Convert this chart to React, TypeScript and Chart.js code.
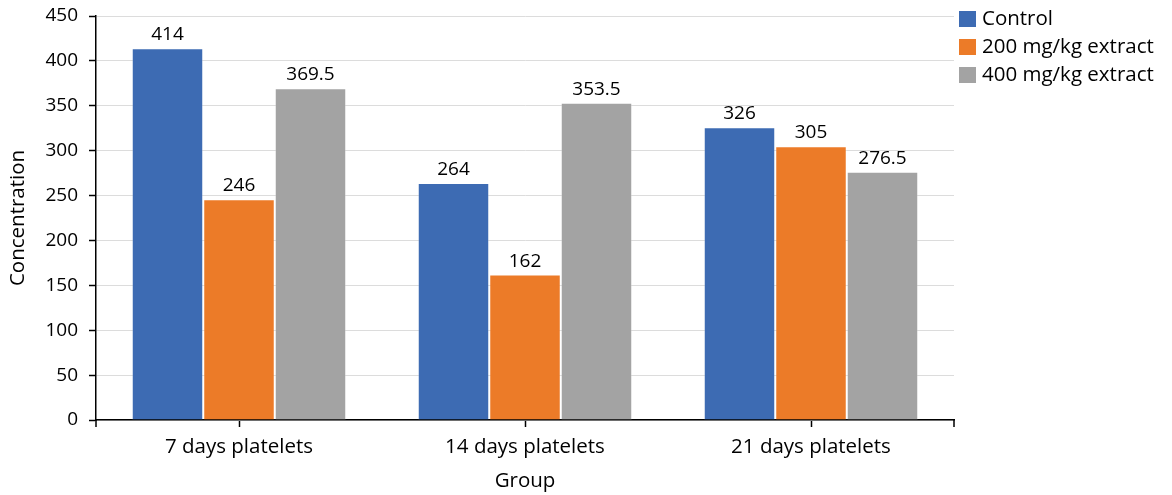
import React, { useEffect, useRef } from "react";
import { Chart, registerables } from "chart.js";

Chart.register(...registerables);

const categories = ["7 days platelets", "14 days platelets", "21 days platelets"];
const seriesNames = ["Control", "200 mg/kg extract", "400 mg/kg extract"];
const controlValues = [414, 264, 326];
const extract200Values = [246, 162, 305];
const extract400Values = [369.5, 353.5, 276.5];
const seriesColors = ["#3D6BB3", "#EC7B28", "#A3A3A3"];
const yTicks = [0, 50, 100, 150, 200, 250, 300, 350, 400, 450];

const FONT = "'Open Sans', 'Noto Sans', sans-serif";
const NUM_SIZE = 19; // numbers: tick values and bar labels
const TEXT_SIZE = 20.5; // words: categories, titles, legend

// Plot-area box on the canvas
const PLOT_LEFT = 96;
const PLOT_RIGHT = 954;
const PLOT_TOP = 16;
const PLOT_BOTTOM = 420;
const W = 1172;
const H = 495;

const extrasPlugin = {
  id: "extras",
  afterDatasetsDraw(chart: any) {
    const ctx = chart.ctx;
    const { left, right, top, bottom } = chart.chartArea;
    ctx.save();
    // value labels above bars
    ctx.font = `${NUM_SIZE}px ${FONT}`;
    ctx.fillStyle = "#000";
    ctx.textAlign = "center";
    ctx.textBaseline = "alphabetic";
    chart.data.datasets.forEach((ds: any, i: number) => {
      const meta = chart.getDatasetMeta(i);
      meta.data.forEach((bar: any, j: number) => {
        ctx.fillText(String(ds.data[j]), bar.x, bar.y - 8);
      });
    });
    // end ticks on the category axis
    ctx.strokeStyle = "#000";
    ctx.lineWidth = 1.5;
    ctx.beginPath();
    ctx.moveTo(left, bottom);
    ctx.lineTo(left, bottom + 7);
    ctx.moveTo(right, bottom);
    ctx.lineTo(right, bottom + 7);
    ctx.stroke();
    // axis titles
    ctx.font = `${TEXT_SIZE}px ${FONT}`;
    ctx.fillStyle = "#000";
    ctx.textAlign = "center";
    ctx.textBaseline = "middle";
    ctx.fillText("Group", (left + right) / 2, 481);
    ctx.save();
    ctx.translate(18, (top + bottom) / 2);
    ctx.rotate(-Math.PI / 2);
    ctx.fillText("Concentration", 0, 0);
    ctx.restore();
    // legend
    ctx.textAlign = "left";
    ctx.textBaseline = "middle";
    seriesNames.forEach((name, i) => {
      const cy = 19 + i * 28;
      ctx.fillStyle = seriesColors[i];
      ctx.fillRect(959, cy - 8, 17, 16);
      ctx.fillStyle = "#000";
      ctx.fillText(name, 982, cy);
    });
    ctx.restore();
  },
};

export default function App() {
  const canvasRef = useRef<HTMLCanvasElement | null>(null);

  useEffect(() => {
    document.body.style.margin = "0";
    const canvas = canvasRef.current;
    if (!canvas) return;
    const valueSets = [controlValues, extract200Values, extract400Values];
    const chart = new Chart(canvas, {
      type: "bar",
      data: {
        labels: categories,
        datasets: seriesNames.map((name, i) => ({
          label: name,
          data: valueSets[i],
          backgroundColor: seriesColors[i],
          borderColor: "rgba(255,255,255,0.25)",
          borderWidth: 1,
          categoryPercentage: 0.75,
          barPercentage: 1,
        })),
      },
      options: {
        responsive: false,
        animation: false,
        devicePixelRatio: 1,
        layout: {
          padding: { left: 0, right: W - PLOT_RIGHT, top: PLOT_TOP, bottom: 0 },
        },
        plugins: {
          legend: { display: false },
          tooltip: { enabled: false },
          title: { display: false },
        },
        scales: {
          x: {
            grid: {
              display: true,
              drawOnChartArea: false,
              drawTicks: true,
              tickLength: 7,
              offset: false,
              tickColor: "#000",
              tickWidth: 1.5,
            },
            border: { display: true, color: "#000", width: 1.5 },
            ticks: {
              color: "#000",
              padding: 8,
              font: { family: FONT, size: TEXT_SIZE },
              maxRotation: 0,
            },
            afterFit(scale: any) {
              scale.height = H - PLOT_BOTTOM;
              scale.paddingLeft = 0;
              scale.paddingRight = 0;
            },
          },
          y: {
            min: 0,
            max: 450,
            afterBuildTicks(scale: any) {
              scale.ticks = yTicks.map((v) => ({ value: v }));
            },
            grid: {
              color: "#DCDCDC",
              lineWidth: 1,
              tickLength: 7,
              tickColor: "#000",
              tickWidth: 1.5,
            },
            border: { display: true, color: "#000", width: 1.5 },
            ticks: {
              color: "#000",
              padding: 11,
              font: { family: FONT, size: NUM_SIZE },
            },
            afterFit(scale: any) {
              scale.width = PLOT_LEFT;
              scale.paddingTop = 0;
              scale.paddingBottom = 0;
            },
          },
        },
      },
      plugins: [extrasPlugin],
    });
    return () => chart.destroy();
  }, []);

  return (
    <div style={{ width: W, height: H }}>
      <canvas ref={canvasRef} width={W} height={H} style={{ display: "block" }} />
    </div>
  );
}
